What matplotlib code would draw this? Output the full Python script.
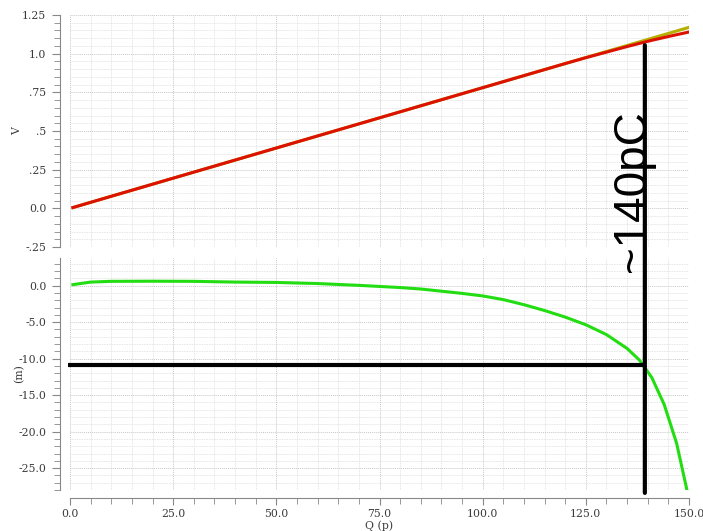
import matplotlib
matplotlib.use("Agg")
import matplotlib.pyplot as plt
from matplotlib.patches import ConnectionPatch
from matplotlib.ticker import MultipleLocator, FixedLocator, FixedFormatter

# Charge sweep (x) shared by both panels
q_v = [0.7, 10, 20, 30, 40, 50, 60, 70, 80, 90, 100, 110, 120, 125, 130, 135, 140, 145, 150]
v_ideal = [0.005, 0.078, 0.156, 0.234, 0.312, 0.390, 0.468, 0.546, 0.624, 0.702,
           0.780, 0.858, 0.936, 0.975, 1.014, 1.053, 1.092, 1.131, 1.170]
v_meas = [0.005, 0.078, 0.156, 0.234, 0.312, 0.390, 0.468, 0.546, 0.624, 0.702,
          0.780, 0.858, 0.936, 0.974, 1.010, 1.046, 1.080, 1.111, 1.140]

q_err = [0.7, 5, 10, 20, 30, 40, 50, 60, 70, 75, 80, 85, 90, 95, 100, 105, 110,
         115, 120, 125, 130, 135, 138, 141, 144, 147, 149.5]
err = [0.15, 0.5, 0.6, 0.62, 0.6, 0.5, 0.45, 0.3, 0.05, -0.1, -0.25, -0.45, -0.75,
       -1.05, -1.4, -1.9, -2.6, -3.4, -4.3, -5.35, -6.7, -8.6, -10.2, -12.6, -16.3,
       -21.6, -28.0]

# Marker for the limit point
q_limit = 139.3
err_limit = -10.84
v_marker_top = 1.055
limit_label = "~140pC"

x_ticks = [0, 25, 50, 75, 100, 125, 150]
x_labels = ["0.0", "25.0", "50.0", "75.0", "100.0", "125.0", "150.0"]
v_ticks = [-0.25, 0.0, 0.25, 0.5, 0.75, 1.0, 1.25]
v_labels = ["-.25", "0.0", ".25", ".5", ".75", "1.0", "1.25"]
e_ticks = [-25, -20, -15, -10, -5, 0]
e_labels = ["-25.0", "-20.0", "-15.0", "-10.0", "-5.0", "0.0"]

W, H = 703, 531
fig = plt.figure(figsize=(W / 100, H / 100), dpi=100)
left, right = 70 / W, 689 / W
ax1 = fig.add_axes([left, 1 - 247 / H, right - left, (247 - 15) / H])
ax2 = fig.add_axes([left, 1 - 490 / H, right - left, (490 - 258) / H])

text_col = "#3a3a3a"
tick_font = dict(family="DejaVu Serif", size=7.8, color=text_col)
spine_col = "#888888"

for ax in (ax1, ax2):
    ax.set_xlim(0, 150)
    for s in ("top", "right", "bottom"):
        ax.spines[s].set_visible(False)
    ax.spines["left"].set_position(("outward", 7))
    ax.spines["left"].set_color(spine_col)
    ax.xaxis.set_major_locator(MultipleLocator(25))
    ax.xaxis.set_minor_locator(MultipleLocator(5))
    ax.grid(which="major", color="#c8c8c8", linestyle=(0, (1, 1)), linewidth=0.7)
    ax.grid(which="minor", color="#dddddd", linestyle=(0, (1, 1)), linewidth=0.6)
    ax.tick_params(axis="y", which="major", length=6, color=spine_col, pad=4)
    ax.tick_params(axis="y", which="minor", length=4, color=spine_col)
    ax.set_axisbelow(True)

# top panel
ax1.plot(q_v, v_ideal, color="#b5b000", linewidth=2.2)
ax1.plot(q_v, v_meas, color="#dd1100", linewidth=2.2)
ax1.set_ylim(-0.25, 1.25)
ax1.yaxis.set_major_locator(FixedLocator(v_ticks))
ax1.yaxis.set_major_formatter(FixedFormatter(v_labels))
ax1.yaxis.set_minor_locator(MultipleLocator(0.05))
ax1.tick_params(axis="x", which="both", bottom=False, labelbottom=False)
ax1.set_ylabel("V", fontdict=tick_font)
ax1.yaxis.set_label_coords(-0.0775, 0.5)

# bottom panel
ax2.plot(q_err, err, color="#22dd11", linewidth=2.2)
ax2.set_ylim(-28.0, 3.8)
ax2.yaxis.set_major_locator(FixedLocator(e_ticks))
ax2.yaxis.set_major_formatter(FixedFormatter(e_labels))
ax2.yaxis.set_minor_locator(MultipleLocator(1))
ax2.spines["bottom"].set_visible(True)
ax2.spines["bottom"].set_position(("outward", 6))
ax2.spines["bottom"].set_color(spine_col)
ax2.xaxis.set_major_locator(FixedLocator(x_ticks))
ax2.xaxis.set_major_formatter(FixedFormatter(x_labels))
ax2.tick_params(axis="x", which="major", length=5, color=spine_col, pad=3)
ax2.tick_params(axis="x", which="minor", length=4, color=spine_col)
ax2.set_ylabel("(m)", fontdict=tick_font)
ax2.yaxis.set_label_coords(-0.0745, 0.5)
ax2.set_xlabel("Q (p)", fontdict=tick_font, labelpad=1)

for ax in (ax1, ax2):
    for lbl in ax.get_xticklabels() + ax.get_yticklabels():
        lbl.set_fontfamily("DejaVu Serif")
        lbl.set_fontsize(7.8)
        lbl.set_color(text_col)

# limit markers
ax2.plot([-0.6, q_limit], [err_limit, err_limit], color="black", linewidth=3,
         clip_on=False, zorder=5, solid_capstyle="butt")
con = ConnectionPatch(xyA=(q_limit, v_marker_top), coordsA=ax1.transData,
                      xyB=(q_limit, -28.4), coordsB=ax2.transData,
                      color="black", linewidth=3, zorder=6)
fig.add_artist(con)
fig.text(141.7, 0.11, limit_label, transform=ax1.transData, rotation=90,
         ha="right", va="center", fontsize=33, family="Liberation Sans",
         color="black", zorder=7)

fig.savefig("out.png", dpi=100)
